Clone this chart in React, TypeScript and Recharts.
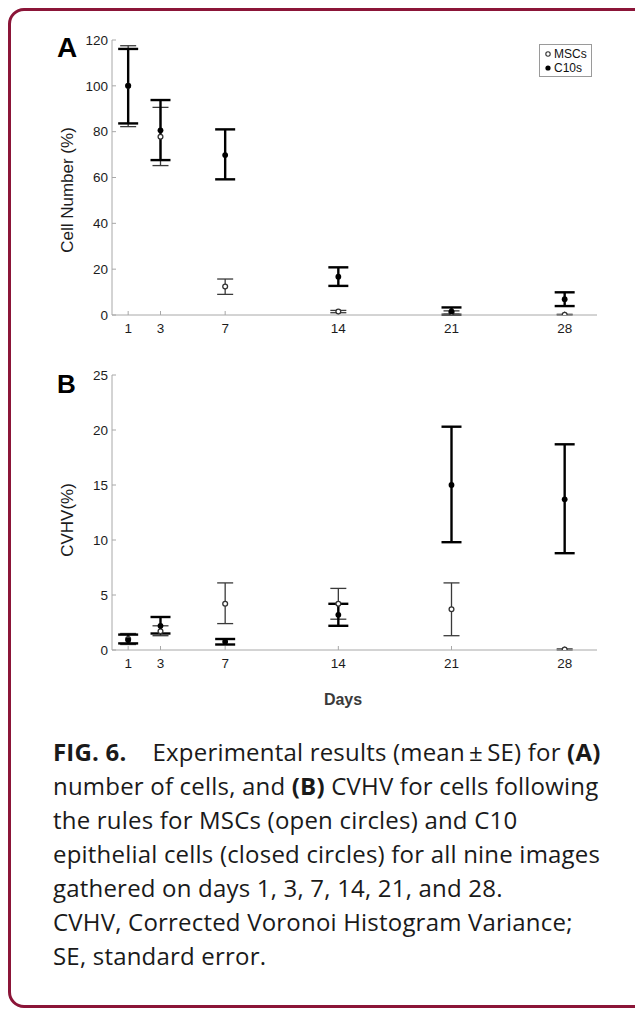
import React from 'react';
import { ScatterChart, Scatter, XAxis, YAxis, ErrorBar, Legend } from 'recharts';

// ---------- data ----------
const days = [1, 3, 7, 14, 21, 28];
const dayTicks = [1, 3, 7, 14, 21, 28];
const cellTicks = [0, 20, 40, 60, 80, 100, 120];
const cvhvTicks = [0, 5, 10, 15, 20, 25];

// Panel A: Cell Number (%)
const mscCellMean = [100, 77.8, 12.4, 1.5, 1.0, 0.1];
const mscCellLow = [82.2, 65.2, 9.0, 1.0, 0.3, 0.0];
const mscCellHigh = [117.5, 90.6, 15.7, 2.0, 1.8, 0.3];
const c10CellMean = [100, 80.6, 69.8, 16.7, 1.6, 6.9];
const c10CellLow = [83.6, 67.6, 59.2, 12.7, 0.1, 3.9];
const c10CellHigh = [116.1, 93.8, 81.0, 20.8, 3.3, 9.9];

// Panel B: CVHV (%)
const mscCvhvMean = [1.0, 1.7, 4.2, 4.2, 3.7, 0.05];
const mscCvhvLow = [0.5, 1.3, 2.4, 2.8, 1.3, 0.0];
const mscCvhvHigh = [1.5, 2.2, 6.1, 5.6, 6.1, 0.1];
const c10CvhvMean = [0.9, 2.2, 0.75, 3.2, 15.0, 13.7];
const c10CvhvLow = [0.6, 1.5, 0.5, 2.2, 9.8, 8.8];
const c10CvhvHigh = [1.4, 3.0, 1.0, 4.2, 20.3, 18.7];

const seriesNames = ['MSCs', 'C10s'];

function build(mean: number[], lo: number[], hi: number[]) {
  return days.map((d, i) => ({ day: d, v: mean[i], err: [mean[i] - lo[i], hi[i] - mean[i]] }));
}

const FONT = '"Liberation Sans", Arial, Helvetica, sans-serif';
const AXIS = '#a8a8a8';
const TXT = '#1c1c1c';

const OpenDot = (p: any) => (
  <circle cx={p.cx} cy={p.cy} r={2.4} fill="#fff" stroke="#333" strokeWidth={1.3} />
);
const FilledDot = (p: any) => <circle cx={p.cx} cy={p.cy} r={2.9} fill="#000" />;

const LegendBox = () => (
  <div
    style={{
      border: '1px solid #9a9a9a',
      background: '#fff',
      width: 53,
      height: 33,
      boxSizing: 'border-box',
      fontFamily: FONT,
      fontSize: 12,
      color: '#111',
      padding: '2px 0 0 4px',
      lineHeight: '14px',
    }}
  >
    <div style={{ display: 'flex', alignItems: 'center' }}>
      <svg width={10} height={12} style={{ flex: 'none' }}>
        <circle cx={4} cy={6} r={2.2} fill="#fff" stroke="#333" strokeWidth={1.1} />
      </svg>
      <span>{seriesNames[0]}</span>
    </div>
    <div style={{ display: 'flex', alignItems: 'center' }}>
      <svg width={10} height={12} style={{ flex: 'none' }}>
        <circle cx={4} cy={6} r={2.6} fill="#000" />
      </svg>
      <span>{seriesNames[1]}</span>
    </div>
  </div>
);

type PanelProps = {
  msc: any[];
  c10: any[];
  yTicks: number[];
  yMax: number;
  yLabel: string;
  labelY: number;
  showLegend?: boolean;
};

function Panel({ msc, c10, yTicks, yMax, yLabel, labelY, showLegend }: PanelProps) {
  return (
    <ScatterChart width={635} height={350} margin={{ top: 40, right: 38, bottom: 0, left: 0 }}>
      <XAxis
        xAxisId="b"
        dataKey="day"
        type="number"
        domain={[0, 30]}
        ticks={dayTicks}
        allowDataOverflow
        height={35}
        stroke={AXIS}
        tickSize={-4}
        tickMargin={12}
        tick={{ fill: TXT, fontSize: 13.5, fontFamily: FONT }}
      />
      <XAxis
        xAxisId="t"
        orientation="top"
        dataKey="day"
        type="number"
        domain={[0, 30]}
        ticks={dayTicks}
        height={0}
        stroke={AXIS}
        tickSize={-4}
        tick={false}
      />
      <YAxis
        yAxisId="l"
        dataKey="v"
        type="number"
        domain={[0, yMax]}
        ticks={yTicks}
        allowDataOverflow
        width={112}
        stroke={AXIS}
        tickSize={-4}
        tickMargin={8}
        tick={{ fill: TXT, fontSize: 13.5, fontFamily: FONT }}
      />
      <YAxis
        yAxisId="r"
        orientation="right"
        dataKey="v"
        type="number"
        domain={[0, yMax]}
        ticks={yTicks}
        width={0}
        stroke={AXIS}
        tickSize={-4}
        tick={false}
      />
      <Scatter
        name={seriesNames[0]}
        data={msc}
        xAxisId="b"
        yAxisId="l"
        shape={OpenDot}
        isAnimationActive={false}
      >
        <ErrorBar dataKey="err" direction="y" width={8} stroke="#3a3a3a" strokeWidth={1.3} isAnimationActive={false} />
      </Scatter>
      <Scatter
        name={seriesNames[1]}
        data={c10}
        xAxisId="b"
        yAxisId="l"
        shape={FilledDot}
        isAnimationActive={false}
      >
        <ErrorBar dataKey="err" direction="y" width={10} stroke="#000" strokeWidth={2.4} isAnimationActive={false} />
      </Scatter>
      {showLegend && (
        <Legend
          layout="vertical"
          align="center"
          verticalAlign="middle"
          content={() => <LegendBox />}
          wrapperStyle={{ left: 539, top: 44, width: 53, height: 33 }}
        />
      )}
      <text
        x={67}
        y={labelY}
        transform={`rotate(-90 67 ${labelY})`}
        textAnchor="middle"
        dominantBaseline="central"
        fontFamily={FONT}
        fontSize={17}
        fill={TXT}
      >
        {yLabel}
      </text>
    </ScatterChart>
  );
}

const captionLines: React.ReactNode[] = [
  <>
    <b>FIG. 6.</b>
    <span style={{ display: 'inline-block', width: 26 }} />
    Experimental results (mean{'\u2009'}±{'\u2009'}SE) for <b>(A)</b>
  </>,
  <>
    number of cells, and <b>(B)</b> CVHV for cells following
  </>,
  <>the rules for MSCs (open circles) and C10</>,
  <>epithelial cells (closed circles) for all nine images</>,
  <>gathered on days 1, 3, 7, 14, 21, and 28.</>,
  <>CVHV, Corrected Voronoi Histogram Variance;</>,
  <>SE, standard error.</>,
];

export default function App() {
  const mscA = build(mscCellMean, mscCellLow, mscCellHigh);
  const c10A = build(c10CellMean, c10CellLow, c10CellHigh);
  const mscB = build(mscCvhvMean, mscCvhvLow, mscCvhvHigh);
  const c10B = build(c10CvhvMean, c10CvhvLow, c10CvhvHigh);
  return (
    <div
      style={{
        position: 'absolute',
        left: 0,
        top: 0,
        width: 635,
        height: 1009,
        overflow: 'hidden',
        background: '#fff',
      }}
    >
      <div
        style={{
          position: 'absolute',
          left: 8,
          top: 8,
          width: 700,
          height: 1000,
          border: '3px solid #8b1538',
          borderRadius: 16,
          boxSizing: 'border-box',
        }}
      />
      <div style={{ position: 'absolute', left: 0, top: 0 }}>
        <Panel msc={mscA} c10={c10A} yTicks={cellTicks} yMax={120} yLabel="Cell Number (%)" labelY={190} showLegend />
      </div>
      <div style={{ position: 'absolute', left: 0, top: 335 }}>
        <Panel msc={mscB} c10={c10B} yTicks={cvhvTicks} yMax={25} yLabel="CVHV(%)" labelY={185} />
      </div>
      <div
        style={{
          position: 'absolute',
          left: 57,
          top: 34,
          fontFamily: FONT,
          fontWeight: 'bold',
          fontSize: 28,
          lineHeight: '28px',
          color: '#000',
        }}
      >
        A
      </div>
      <div
        style={{
          position: 'absolute',
          left: 57,
          top: 371,
          fontFamily: FONT,
          fontWeight: 'bold',
          fontSize: 26,
          lineHeight: '26px',
          color: '#000',
        }}
      >
        B
      </div>
      <div
        style={{
          position: 'absolute',
          left: 293,
          width: 100,
          top: 691,
          textAlign: 'center',
          fontFamily: FONT,
          fontWeight: 'bold',
          fontSize: 16,
          lineHeight: '18px',
          color: '#3a3a3a',
        }}
      >
        Days
      </div>
      <div
        style={{
          position: 'absolute',
          left: 53,
          top: 735,
          fontFamily: '"Open Sans", "Noto Sans", sans-serif',
          fontSize: 24,
          letterSpacing: 0.2,
          lineHeight: '34px',
          color: '#1a1a1a',
          whiteSpace: 'nowrap',
        }}
      >
        {captionLines.map((l, i) => (
          <div key={i}>{l}</div>
        ))}
      </div>
    </div>
  );
}
